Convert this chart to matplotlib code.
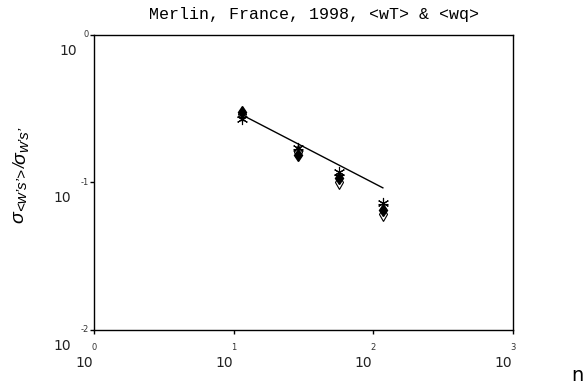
import matplotlib
matplotlib.use("Agg")
import matplotlib.pyplot as plt
from matplotlib import transforms

# data
n_vals = [11.5, 29, 57, 117]
ratio_star = [0.271, 0.172, 0.117, 0.073]
ratio_plus = [0.276, 0.168, 0.113, 0.071]
ratio_filled = [0.301, 0.154, 0.107, 0.065]
ratio_open = [0.291, 0.161, 0.101, 0.061]
fit_n = [11.5, 117]
fit_ratio = [0.287, 0.092]
xtick_exps = ["0", "1", "2", "3"]
ytick_exps = ["-2", "-1", "0"]

fig = plt.figure(figsize=(5.85, 3.85), dpi=100)
ax = fig.add_axes([94/585, 55/385, (513-94)/585, (330-35)/385])
ax.set_xscale("log")
ax.set_yscale("log")
ax.set_xlim(1, 1000)
ax.set_ylim(0.01, 1)

ax.plot(fit_n, fit_ratio, color="black", lw=1.0)
ax.plot(n_vals, ratio_open, linestyle="none", marker="d", ms=7, mfc="white", mec="black", mew=0.8)
ax.plot(n_vals, ratio_filled, linestyle="none", marker="d", ms=6, mfc="black", mec="black")
ax.plot(n_vals, ratio_star, linestyle="none", marker=(6, 2, 0), ms=8, color="black", mew=0.8)
ax.plot(n_vals, ratio_plus, linestyle="none", marker="+", ms=7, color="black", mew=0.8)

xt = [10.0 ** int(e) for e in xtick_exps]
yt = [10.0 ** int(e) for e in ytick_exps]
ax.set_xticks(xt)
ax.set_yticks(yt)
ax.set_xticklabels([])
ax.set_yticklabels([])
ax.minorticks_off()
ax.tick_params(direction="out", length=3, width=1)
for s in ax.spines.values():
    s.set_linewidth(1.0)

# custom tick labels (MATLAB-like "10" with offset exponent)
bx = transforms.blended_transform_factory(ax.transData, ax.transAxes)
for e, v in zip(xtick_exps, xt):
    t1 = transforms.offset_copy(bx, fig=fig, x=0, y=-17, units="dots")
    ax.text(v, 0, e, transform=t1, ha="center", va="center", fontsize=6, color="#333333")
    t2 = transforms.offset_copy(bx, fig=fig, x=-1, y=-33, units="dots")
    ax.text(v, 0, "10", transform=t2, ha="right", va="center", fontsize=10, color="#222222")

by = transforms.blended_transform_factory(ax.transAxes, ax.transData)
for e, v in zip(ytick_exps, yt):
    t1 = transforms.offset_copy(by, fig=fig, x=-5, y=0, units="dots")
    ax.text(0, v, e, transform=t1, ha="right", va="center", fontsize=6, color="#333333")
    w = 6 * len(e) + 6
    t2 = transforms.offset_copy(by, fig=fig, x=-5 - w, y=-16, units="dots")
    ax.text(0, v, "10", transform=t2, ha="right", va="center", fontsize=10, color="#222222")

fig.text(314/585, 1 - 14/385, "Merlin, France, 1998, <wT> & <wq>",
         family="Liberation Mono", fontsize=12, ha="center", va="center")

# y label built from rotated pieces, chained one after another
lab_font = "Liberation Sans"
pieces = [("\u03c3", 14, 0), ("<w\u2019s\u2019>", 11, 2), ("/", 12, 0),
          ("\u03c3", 14, 0), ("w\u2019s\u2019", 11, 2)]
prev = fig.text(27/585, 1 - 223/385, pieces[0][0], rotation=90, ha="right", va="bottom",
                fontsize=pieces[0][1], family=lab_font, style="italic")
for txt, fs, shift in pieces[1:]:
    prev = fig.add_artist(plt.Annotation(
        txt, xy=(1, 1), xycoords=prev, xytext=(shift * 0.72, 0),
        textcoords="offset points", rotation=90, ha="right", va="bottom",
        fontsize=fs, family=lab_font, style="italic"))

fig.text(571/585, 1 - 381/385, "n", fontsize=14, ha="left", va="baseline")

fig.savefig("out.png", dpi=100)
